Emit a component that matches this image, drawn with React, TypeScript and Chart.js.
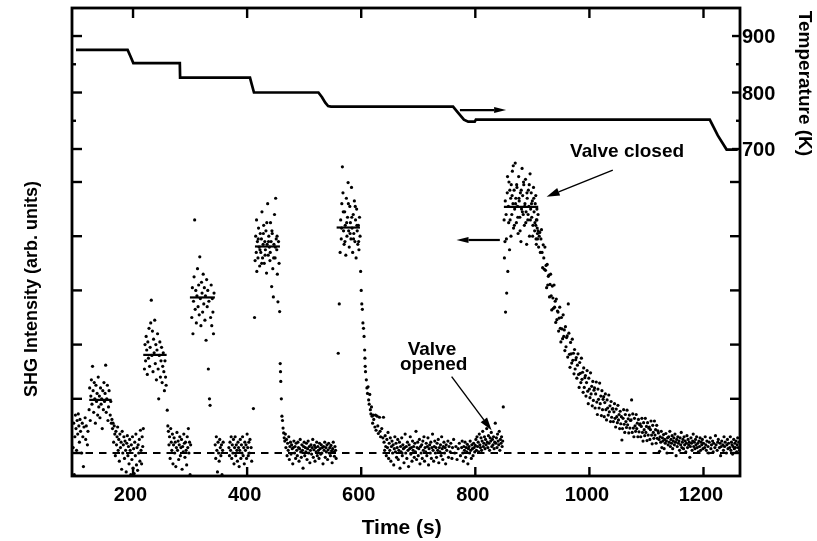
import React, { useEffect, useRef } from "react";
import { Chart, registerables } from "chart.js";

Chart.register(...registerables);

// ---------- axis values ----------
const timeTicks = [200, 400, 600, 800, 1000, 1200];
const shgTicks = [0, 1, 2, 3, 4, 5];
const tempLabelTicks = [700, 800, 900];
const tempMinorTicks = [750, 850];

// ---------- temperature (K) vs time (s) ----------
const tempTime = [100, 190.5, 196, 200.5, 282, 282.5, 405, 408, 412, 525, 531, 537, 542, 547, 761, 770, 780, 787.5, 799, 801, 1211, 1225, 1240.5, 1260];
const tempKelvin = [875.5, 875.5, 863, 852, 852, 826.5, 826.5, 815, 800, 800, 792, 782, 776, 775, 775, 764, 752, 748.5, 748.5, 752, 752, 724, 699, 699];

// ---------- SHG intensity (arb. units) vs time (s) ----------
const shgStart: [number, number][] = [
  [95, 0.1], [96, 0.55], [97, -0.4], [98, 0.3], [99, 0.7], [100, 0.45], [101, 0.05], [102, 0.6], [103, 0.35], [104, 0.72],
  [105, 0.5], [106, 0.2], [107, 0.62], [108, 0.4], [110, 0.0], [111, 0.55], [112, 0.3], [113, -0.25], [114, 0.48], [116, 0.65],
  [117, 0.25], [118, 0.5], [120, 0.15], [121, 0.4],
];
const shgStep1: [number, number][] = [
  [123, 0.8], [124, 1.2], [125, 0.6], [126, 1.05], [127, 1.35], [128, 0.9], [129, 1.6], [130, 1.15], [131, 0.75], [132, 1.3],
  [133, 1.0], [134, 0.55], [135, 1.25], [136, 0.95], [137, 1.1], [138, 0.7], [139, 1.4], [140, 0.85], [141, 1.05], [142, 0.65],
  [143, 1.2], [144, 0.9], [145, 1.0], [146, 0.45], [147, 1.15], [148, 0.8], [149, 1.3], [150, 0.95], [151, 1.1], [152, 1.62],
  [153, 0.75], [154, 1.0], [155, 1.25], [156, 0.6], [157, 0.85], [158, 1.15], [160, 0.7], [161, 0.95], [162, 0.55],
];
const shgGap1: [number, number][] = [
  [163, 0.62], [164, 0.45], [165, 0.55], [166, 0.2], [167, 0.5], [168, 0.35], [169, -0.05], [170, 0.4], [171, 0.15], [172, 0.3],
  [173, 0.48], [174, 0.05], [175, 0.25], [176, -0.15], [177, 0.35], [178, 0.1], [179, 0.2], [180, -0.3], [181, 0.4], [182, 0.0],
  [183, 0.15], [184, 0.3], [185, -0.1], [186, 0.22], [187, 0.05], [188, -0.35], [189, 0.18], [190, 0.32], [191, -0.05], [192, 0.12],
  [193, -0.2], [194, 0.25], [195, 0.05], [196, -0.4], [197, 0.15], [198, -0.12], [199, 0.3], [200, -0.28], [201, 0.08], [202, -0.38],
  [203, 0.2], [204, -0.05], [205, 0.35], [206, -0.22], [207, 0.1], [208, -0.32], [209, 0.15], [210, 0.0], [211, 0.25], [212, -0.15],
  [213, 0.42], [214, 0.05], [215, -0.2], [216, 0.3], [217, 0.12], [218, 0.45],
];
const shgStep2: [number, number][] = [
  [220, 1.55], [221, 2.0], [222, 1.7], [223, 2.15], [224, 1.9], [225, 1.45], [226, 2.05], [227, 1.75], [228, 2.3], [229, 1.6],
  [230, 1.95], [231, 2.4], [232, 2.82], [233, 1.8], [234, 2.25], [235, 1.5], [236, 2.1], [237, 1.85], [238, 2.45], [239, 1.65],
  [240, 2.0], [241, 1.35], [242, 1.9], [243, 2.2], [244, 1.55], [245, 1.0], [246, 1.8], [247, 2.05], [248, 1.4], [249, 1.7],
  [250, 1.95], [251, 1.3], [252, 1.6], [253, 1.85], [254, 1.5], [255, 1.15], [256, 1.7], [257, 1.4], [258, 1.25], [260, 0.79],
];
const shgGap2: [number, number][] = [
  [261, 0.5], [262, 0.4], [263, 0.15], [264, 0.3], [265, -0.1], [266, 0.45], [267, 0.2], [268, 0.05], [269, 0.35], [270, -0.2],
  [271, 0.15], [272, 0.28], [273, 0.0], [274, 0.2], [275, -0.25], [276, 0.1], [277, 0.38], [278, 0.05], [279, 0.22], [280, -0.12],
  [281, 0.15], [282, 0.3], [283, -0.05], [284, 0.1], [285, 0.25], [286, -0.3], [287, 0.12], [288, 0.02], [289, 0.35], [290, 0.18],
  [291, -0.08], [292, 0.2], [293, 0.05], [294, -0.22], [295, 0.3], [296, 0.1], [297, 0.45], [298, 0.0], [299, 0.2], [300, -0.4],
  [301, 0.15],
];
const shgStep3: [number, number][] = [
  [303, 2.5], [304, 3.05], [305, 2.2], [306, 2.8], [307, 3.25], [308, 4.3], [309, 2.65], [310, 3.0], [311, 2.4], [312, 2.9],
  [313, 3.4], [314, 2.7], [315, 3.1], [316, 2.55], [317, 3.62], [318, 2.85], [319, 2.35], [320, 3.15], [321, 2.95], [322, 2.6],
  [323, 3.3], [324, 2.75], [325, 3.05], [326, 2.45], [327, 2.9], [328, 2.08], [329, 3.2], [330, 2.7], [331, 3.0], [332, 1.55],
  [333, 2.8], [334, 1.0], [335, 0.88], [336, 2.5], [337, 3.1], [338, 2.35], [339, 2.85], [340, 2.6], [341, 2.2], [342, 2.95],
];
const shgGap3: [number, number][] = [
  [344, 0.15], [345, -0.1], [346, 0.3], [347, 0.05], [348, -0.35], [349, 0.2], [350, 0.0], [351, -0.15], [352, 0.25], [353, 0.1],
  [354, -0.05], [355, 0.15], [356, -0.4], [357, 0.05], [358, 0.2],
  [368, 0.1], [369, -0.05], [370, 0.2], [371, 0.05], [372, 0.3], [373, -0.1], [374, 0.15], [375, 0.0], [376, 0.25], [377, -0.2],
  [378, 0.1], [379, 0.3], [380, -0.05], [381, 0.15], [382, 0.05], [383, -0.15], [384, 0.2], [385, 0.1], [386, -0.25], [387, 0.05],
  [388, 0.25], [389, -0.1], [390, 0.15], [391, 0.0], [392, 0.3], [393, -0.05], [394, 0.1], [395, -0.2], [396, 0.2], [397, 0.05],
  [398, 0.15], [399, -0.1], [400, 0.35], [401, 0.1], [402, -0.05], [403, 0.2], [404, 0.0], [405, 0.25], [407, 0.1], [408, -0.15],
];
const shgStep4: [number, number][] = [
  [411, 0.82], [413, 2.5], [414, 3.55], [415, 4.0], [416, 3.7], [417, 3.35], [418, 3.9], [419, 3.6], [420, 4.15], [421, 3.8],
  [422, 3.45], [423, 4.05], [424, 3.7], [425, 3.95], [426, 4.45], [427, 3.6], [428, 3.85], [429, 4.2], [430, 3.5], [431, 3.9],
  [432, 3.75], [433, 4.1], [434, 3.32], [435, 3.85], [436, 4.6], [437, 3.65], [438, 4.0], [439, 3.8], [440, 3.55], [441, 4.25],
  [442, 3.9], [443, 3.07], [444, 4.05], [445, 3.4], [446, 2.88], [447, 3.85], [448, 4.4], [449, 3.6], [450, 4.7], [451, 3.95],
  [452, 3.75], [453, 3.3], [454, 2.79], [455, 3.9], [456, 3.5], [457, 2.61], [458, 1.65], [458.5, 1.5], [459, 1.32], [460, 1.0],
  [461, 0.68], [462, 0.6], [463, 0.46], [464, 0.37], [465, 0.28],
  [416.5, 4.3], [419.5, 3.95], [422.5, 3.75], [425.5, 3.5], [428.5, 4.05], [431.5, 3.65], [434.5, 4.25], [437.5, 3.9], [440.5, 3.7],
  [443.5, 4.1], [446.5, 3.6], [449.5, 3.8], [452.5, 4.0],
];
const shgGap4: [number, number][] = [
  [466, 0.22], [467, 0.35], [468, 0.1], [469, 0.25], [470, -0.05], [471, 0.18], [472, 0.05], [473, 0.3], [474, -0.12], [475, 0.12],
  [476, 0.2], [477, -0.02], [478, 0.15], [479, 0.08], [480, -0.2], [481, 0.1], [482, 0.22], [483, 0.0], [484, 0.12], [485, -0.1],
  [486, 0.18], [487, 0.05], [488, -0.05], [489, 0.2], [490, 0.1], [491, -0.15], [492, 0.08], [493, 0.25], [494, 0.02], [495, -0.08],
  [496, 0.15], [497, 0.05], [498, -0.28], [499, 0.12], [500, 0.2], [501, -0.05], [502, 0.1], [503, 0.02], [504, 0.18], [505, -0.12],
  [506, 0.08], [507, 0.22], [508, 0.0], [509, 0.12], [510, -0.18], [511, 0.05], [512, 0.15], [513, -0.02], [514, 0.1], [515, 0.25],
  [516, -0.08], [517, 0.06], [518, 0.14], [519, -0.15], [520, 0.1], [521, 0.02], [522, 0.2], [523, -0.05], [524, 0.12], [525, 0.05],
  [526, -0.1], [527, 0.18], [528, 0.08], [529, -0.02], [530, 0.15], [531, 0.0], [532, 0.1], [533, -0.2], [534, 0.12], [535, 0.05],
  [536, 0.2], [537, -0.08], [538, 0.1], [539, 0.02], [540, 0.15], [541, -0.12], [542, 0.06], [543, 0.18], [544, 0.0], [545, 0.1],
  [546, -0.05], [547, 0.14], [548, 0.04], [549, -0.18], [550, 0.08], [551, 0.2], [552, 0.02], [553, -0.06], [554, 0.12], [555, 0.05],
  [556, -0.1],
];
const shgStep5: [number, number][] = [
  [559.7, 1.84], [561.5, 2.75], [563, 3.7], [564, 4.3], [565, 3.95], [566, 4.6], [567, 5.28], [568, 4.8], [569, 4.1], [570, 3.85],
  [571, 4.45], [572, 4.2], [573, 3.65], [574, 4.7], [575, 4.0], [576, 4.35], [577, 4.99], [578, 4.1], [579, 3.8], [580, 4.55],
  [581, 4.25], [582, 3.95], [583, 4.9], [584, 4.15], [585, 3.7], [586, 4.4], [587, 4.05], [588, 4.65], [589, 3.9], [590, 4.3],
  [591, 3.6], [592, 4.5], [593, 4.1], [594, 3.85], [595, 4.2], [596, 3.75], [597, 4.35], [598, 4.0],
  [565.5, 4.15], [568.5, 4.45], [571.5, 3.9], [574.5, 4.25], [577.5, 4.6], [580.5, 4.05], [583.5, 4.35], [586.5, 3.95], [589.5, 4.55],
  [592.5, 4.2], [595.5, 3.9],
  [599, 3.35], [600, 3.0], [601, 2.75], [602, 2.65], [603, 2.4], [604, 2.3], [605, 2.15], [606, 1.9], [606.5, 1.75], [607, 1.6],
  [607.5, 1.5], [609, 1.35], [610, 1.2], [611, 1.1], [612, 1.22], [613, 0.98], [614, 0.9], [615, 1.08], [616, 0.8], [617, 0.72],
  [618, 0.85], [619, 0.68], [620, 0.55], [621, 0.7], [622, 0.62], [624, 0.48], [625, 0.7], [626, 0.42], [628, 0.68], [629, 0.5],
  [630, 0.36], [632, 0.66], [633, 0.4], [634, 0.3], [636, 0.45], [638, 0.28], [639, 0.66],
];
const shgBaseline: [number, number][] = [
  [640, 0.2], [641, 0.05], [642, 0.32], [643, 0.12], [644, -0.05], [645, 0.25], [646, 0.1], [647, 0.38], [648, -0.1], [649, 0.18],
  [650, 0.05], [651, 0.28], [652, -0.15], [653, 0.12], [654, 0.22], [655, 0.0], [656, 0.15], [657, -0.22], [658, 0.08], [659, 0.3],
  [660, 0.02], [661, 0.18], [662, -0.08], [663, 0.1], [664, 0.25], [665, -0.12], [666, 0.05], [667, 0.2], [668, -0.28], [669, 0.12],
  [670, 0.02], [671, 0.28], [672, -0.05], [673, 0.15], [674, 0.08], [675, -0.18], [676, 0.1], [677, 0.35], [678, 0.0], [679, 0.12],
  [680, -0.1], [681, 0.2], [682, 0.05], [683, -0.25], [684, 0.15], [685, 0.08], [686, 0.3], [687, -0.02], [688, 0.1], [689, -0.15],
  [690, 0.22], [691, 0.05], [692, 0.12], [693, -0.08], [694, 0.18], [695, 0.02], [696, 0.4], [697, -0.12], [698, 0.1], [699, 0.2],
  [700, -0.05], [701, 0.08], [702, 0.25], [703, -0.2], [704, 0.12], [705, 0.0], [706, 0.15], [707, -0.1], [708, 0.22], [709, 0.05],
  [710, 0.3], [711, -0.15], [712, 0.1], [713, 0.02], [714, 0.18], [715, -0.05], [716, 0.12], [717, 0.28], [718, -0.22], [719, 0.08],
  [720, 0.15], [721, 0.0], [722, 0.2], [723, -0.1], [724, 0.1], [725, 0.35], [726, 0.05], [727, -0.15], [728, 0.12], [729, 0.22],
  [730, 0.0], [731, 0.1], [732, -0.08], [733, 0.18], [734, 0.05], [735, 0.25], [736, -0.18], [737, 0.1], [738, 0.02], [739, 0.15],
  [740, -0.05], [741, 0.3], [742, 0.08], [743, -0.12], [744, 0.12], [745, 0.2], [746, 0.0], [747, 0.1], [748, -0.2], [749, 0.15],
  [750, 0.05], [752, 0.22], [753, -0.08], [754, 0.12], [756, 0.02], [757, 0.18], [759, -0.1], [760, 0.1], [762, 0.25], [764, 0.0],
  [766, 0.12], [768, -0.12], [770, 0.08], [772, 0.18], [774, -0.05], [776, 0.1], [777, 0.22], [778, 0.0], [779, -0.15], [780, 0.12],
  [781, 0.05], [782, 0.2], [783, -0.08], [784, 0.1], [785, 0.02], [786, 0.16], [787, -0.2], [788, 0.08], [789, 0.12], [790, 0.0],
  [791, 0.22], [792, 0.05], [793, -0.1], [794, 0.15], [795, 0.08], [796, -0.05], [797, 0.18], [798, 0.1], [799, 0.02], [800, 0.14],
  [801, 0.25], [802, 0.05], [803, 0.3], [804, 0.12], [805, 0.2], [806, 0.02], [807, 0.35], [808, 0.15], [809, 0.1], [810, 0.28],
  [811, 0.05], [812, 0.22], [813, 0.4], [814, 0.12], [815, 0.18], [816, 0.3], [817, 0.08], [818, 0.25], [819, 0.15], [820, 0.45],
  [821, 0.2], [822, 0.1], [823, 0.32], [824, 0.18], [825, 0.05], [826, 0.28], [827, 0.22], [828, 0.38], [829, 0.12], [830, 0.25],
  [831, 0.15], [832, 0.3], [833, 0.08], [834, 0.2], [835, 0.55], [836, 0.18], [837, 0.28], [838, 0.1], [839, 0.35], [840, 0.22],
  [841, 0.15], [842, 0.4], [843, 0.05], [844, 0.25], [845, 0.18], [846, 0.3], [847, 0.12], [848, 0.22],
];
const shgStep6: [number, number][] = [
  [849, 0.85], [851, 3.6], [852, 3.9], [853, 2.6], [854, 4.4], [855, 2.95], [856, 4.8], [857, 3.35], [858, 4.55], [859, 5.0],
  [860, 3.75], [861, 4.3], [862, 4.7], [863, 4.95], [864, 4.4], [865, 5.2], [866, 4.6], [867, 4.15], [868, 4.85], [869, 4.5],
  [870, 5.35], [871, 4.7], [872, 4.25], [873, 4.9], [874, 4.55], [875, 4.05], [876, 5.1], [877, 4.65], [878, 4.35], [879, 4.8],
  [880, 3.9], [881, 4.5], [882, 5.25], [883, 4.75], [884, 4.4], [885, 4.95], [886, 4.2], [887, 4.6], [888, 5.05], [889, 4.45],
  [890, 3.85], [891, 4.7], [892, 4.3], [893, 4.85], [894, 4.55], [895, 4.0], [896, 5.15], [897, 4.5], [898, 4.8], [899, 4.35],
  [900, 4.65], [901, 4.2], [902, 4.9], [903, 4.45], [904, 4.1], [905, 4.6], [906, 4.75], [907, 4.3], [908, 4.5], [909, 4.05],
  [910, 4.4],
  [850.5, 4.3], [852.5, 4.65], [854.5, 3.95], [856.5, 5.1], [858.5, 4.25], [860.5, 4.85], [862.5, 4.0], [864.5, 4.75], [866.5, 5.3],
  [868.5, 4.2], [870.5, 4.6], [872.5, 4.95], [874.5, 4.35], [876.5, 4.7], [878.5, 4.1], [880.5, 4.85], [882.5, 4.45], [884.5, 5.0],
  [886.5, 4.55], [888.5, 4.25], [890.5, 4.8], [892.5, 4.4], [894.5, 4.95], [896.5, 4.3], [898.5, 4.6], [900.5, 4.0], [902.5, 4.7],
  [904.5, 4.25], [906.5, 3.95], [908.5, 4.15],
];
const shgRecovery: [number, number][] = [
  [906, 4.2], [907, 3.85], [908, 4.3], [909, 3.95], [910, 4.1], [911, 3.8], [912, 4.0],
  [913, 4.07], [914, 3.7], [915, 3.95], [916, 4.12], [917, 3.7], [918, 3.42], [919, 3.84], [920, 3.6], [921, 3.39], [922, 3.8],
  [923, 3.37], [924, 3.46], [925, 3.05], [926, 3.48], [927, 3.1], [928, 3.26], [929, 3.28], [930, 2.88], [931, 3.11], [932, 3.3],
  [933, 2.9], [934, 2.64], [935, 3.08], [936, 2.86], [937, 2.67], [938, 3.1], [939, 2.69], [940, 2.8], [941, 2.41], [942, 2.84],
  [943, 2.46], [944, 2.62], [945, 2.6], [946, 2.25], [947, 2.49], [948, 2.69], [949, 2.3], [950, 2.05], [951, 2.5], [952, 2.29],
  [953, 2.11], [954, 2.55], [955, 2.15], [956, 2.27], [957, 1.89], [958, 2.33], [959, 1.96], [960, 2.13], [961, 2.16], [962, 1.77],
  [963, 2.75], [964, 2.21], [965, 1.82], [966, 1.58], [967, 2.04], [968, 1.83], [969, 1.66], [970, 2.1], [971, 1.71], [972, 1.84],
  [973, 1.46], [974, 1.91], [975, 1.55], [976, 1.72], [977, 1.76], [978, 1.38], [979, 1.62], [980, 1.83], [981, 1.45], [982, 1.21],
  [983, 1.67], [984, 1.47], [985, 1.3], [986, 1.75], [987, 1.36], [988, 1.49], [989, 1.12], [990, 1.57], [991, 1.21], [992, 1.39],
  [993, 1.43], [994, 1.05], [995, 1.3], [996, 1.52], [997, 1.14], [998, 0.91], [999, 1.38], [1000, 1.18], [1001, 1.02], [1002, 1.48],
  [1003, 1.09], [1004, 1.23], [1005, 0.87], [1006, 1.32], [1007, 0.97], [1008, 1.16], [1009, 1.2], [1010, 0.83], [1011, 1.09], [1012, 1.31],
  [1013, 0.94], [1014, 0.71], [1015, 1.18], [1016, 0.99], [1017, 0.83], [1018, 1.29], [1019, 0.91], [1020, 1.05], [1021, 0.69], [1022, 1.15],
  [1023, 0.8], [1024, 0.99], [1025, 1.04], [1026, 0.67], [1027, 0.93], [1028, 1.09], [1029, 0.8], [1030, 0.61], [1031, 0.98], [1032, 0.83],
  [1033, 0.7], [1034, 1.07], [1035, 0.76], [1036, 0.87], [1037, 0.58], [1038, 0.95], [1039, 0.66], [1040, 0.81],
  [1041, 0.82], [1042, 0.58], [1043, 0.76], [1044, 0.91], [1045, 0.64], [1046, 0.48], [1047, 0.81], [1048, 0.67], [1049, 0.56], [1050, 0.88],
  [1051, 0.61], [1052, 0.71], [1053, 0.45], [1054, 0.77], [1055, 0.54], [1056, 0.67], [1057, 0.24], [1058, 0.45], [1059, 0.64], [1060, 0.8],
  [1061, 0.53], [1062, 0.38], [1063, 0.71], [1064, 0.58], [1065, 0.47], [1066, 0.79], [1067, 0.52], [1068, 0.63], [1069, 0.37], [1070, 0.7],
  [1071, 0.46], [1072, 0.6], [1073, 0.61], [1074, 0.98], [1075, 0.38], [1076, 0.72], [1077, 0.46], [1078, 0.3], [1079, 0.64], [1080, 0.5],
  [1081, 0.4], [1082, 0.71], [1083, 0.45], [1084, 0.55], [1085, 0.3], [1086, 0.62], [1087, 0.39], [1088, 0.52], [1089, 0.54], [1090, 0.3],
  [1091, 0.49], [1092, 0.64], [1093, 0.38], [1094, 0.22], [1095, 0.56], [1096, 0.43], [1097, 0.32], [1098, 0.64], [1099, 0.38], [1100, 0.49],
  [1101, 0.23], [1102, 0.56], [1103, 0.33], [1104, 0.46], [1105, 0.48], [1106, 0.25], [1107, 0.43], [1108, 0.59], [1109, 0.33], [1110, 0.17],
  [1111, 0.51], [1112, 0.38], [1113, 0.27], [1114, 0.59], [1115, 0.33], [1116, 0.43], [1117, 0.18], [1118, 0.51], [1119, 0.27], [1120, 0.41],
  [1121, 0.37], [1122, 0.25], [1123, 0.03], [1124, 0.3], [1125, 0.2], [1126, 0.4],
  [1127, 0.1], [1128, 0.28], [1129, 0.22], [1130, 0.34], [1131, 0.08], [1132, 0.25], [1133, 0.18], [1134, 0.36], [1135, 0.22], [1136, 0.0],
  [1137, 0.28], [1138, 0.15], [1139, 0.3], [1140, 0.2], [1141, 0.4], [1142, 0.12], [1143, 0.25], [1144, 0.18], [1145, 0.32], [1146, 0.08],
  [1147, 0.22], [1148, 0.28], [1149, 0.15], [1150, 0.35], [1151, 0.2], [1152, -0.05], [1153, 0.25], [1154, 0.12], [1155, 0.3], [1156, 0.18],
  [1157, 0.22], [1158, 0.05], [1159, 0.28], [1160, 0.15], [1161, 0.38], [1162, 0.1], [1163, 0.2], [1164, 0.25], [1165, 0.08], [1166, 0.3],
  [1167, 0.15], [1168, 0.22], [1169, 0.02], [1170, 0.18], [1171, 0.32], [1172, 0.1], [1173, 0.25], [1174, 0.15], [1175, 0.2], [1176, -0.08],
  [1177, 0.12], [1178, 0.28], [1179, 0.18], [1180, 0.05], [1181, 0.22], [1182, 0.35], [1183, 0.12], [1184, 0.2], [1185, 0.08], [1186, 0.25],
  [1187, 0.15], [1188, 0.3], [1189, 0.1], [1190, 0.18], [1191, 0.02], [1192, 0.22], [1193, 0.12], [1194, 0.28], [1195, 0.05], [1196, 0.2],
  [1197, 0.15], [1198, 0.25], [1199, 0.08], [1200, 0.18], [1202, 0.1], [1203, 0.3], [1204, 0.15], [1205, 0.05], [1206, 0.22], [1208, 0.12],
  [1209, 0.0], [1210, 0.2], [1212, 0.28], [1213, 0.08], [1214, 0.15], [1216, 0.22], [1217, 0.02], [1218, 0.18], [1220, 0.1], [1221, 0.32],
  [1222, 0.15], [1224, 0.05], [1225, 0.2], [1226, 0.25], [1228, 0.1], [1229, 0.18], [1230, -0.05], [1231, 0.12], [1232, 0.22], [1234, 0.15],
  [1235, 0.05], [1236, 0.3], [1237, 0.12], [1238, 0.2], [1240, 0.0], [1241, 0.15], [1242, 0.25], [1243, 0.08], [1244, 0.18], [1246, 0.1],
  [1247, 0.3], [1248, 0.05], [1249, 0.2], [1250, 0.15], [1251, -0.02], [1252, 0.12], [1253, 0.25], [1254, 0.08], [1255, 0.18], [1256, 0.1],
  [1257, 0.22], [1258, 0.02], [1259, 0.15], [1260, 0.28], [1261, 0.1], [1262, 0.2], [1263, 0.05],
];

// plateau averages (short horizontal bars)
const meanStart = [123.2, 217.9, 299.7, 413.7, 556.9, 850.1];
const meanEnd = [162.5, 258.9, 343.5, 457.5, 597.8, 910.3];
const meanLevel = [0.98, 1.81, 2.87, 3.81, 4.16, 4.54];

// annotations (data coordinates)
const tempArrow = [773, 769, 854, 769];
const shgArrow = [843, 3.93, 767, 3.93];
const closedArrow = [1041, 5.22, 925, 4.73];
const openedArrow = [758.5, 1.41, 828.6, 0.42];
const closedLabel = { text: "Valve closed", t: 1066, s: 5.46 };
const openedLabel = [
  { text: "Valve", t: 724, s: 1.81 },
  { text: "opened", t: 727, s: 1.53 },
];

const FONT = "'Liberation Sans', Arial, Helvetica, sans-serif";

const decorPlugin = {
  id: "decor",
  afterDatasetsDraw(chart: any) {
    const { ctx, chartArea: a, scales } = chart;
    const xs = scales.x;
    const ys = scales.y;
    const ts = scales.y2;
    ctx.save();
    ctx.strokeStyle = "#000";
    ctx.fillStyle = "#000";
    ctx.lineCap = "butt";

    const seg = (x1: number, y1: number, x2: number, y2: number) => {
      ctx.beginPath();
      ctx.moveTo(x1, y1);
      ctx.lineTo(x2, y2);
      ctx.stroke();
    };

    ctx.lineWidth = 2.8;
    ctx.strokeRect(a.left, a.top, a.right - a.left, a.bottom - a.top);

    ctx.lineWidth = 2.4;
    timeTicks.forEach((v) => {
      const x = xs.getPixelForValue(v);
      seg(x, a.bottom, x, a.bottom - 9);
      seg(x, a.top, x, a.top + 10);
    });
    shgTicks.forEach((v) => {
      const y = ys.getPixelForValue(v);
      seg(a.left, y, a.left + 10, y);
      seg(a.right, y, a.right - 10, y);
    });
    tempLabelTicks.forEach((v) => {
      const y = ts.getPixelForValue(v);
      seg(a.left, y, a.left + 10, y);
      seg(a.right, y, a.right - 8, y);
    });
    tempMinorTicks.forEach((v) => {
      const y = ts.getPixelForValue(v);
      seg(a.left, y, a.left + 4, y);
      seg(a.right, y, a.right - 4, y);
    });

    ctx.font = `bold 20px ${FONT}`;
    ctx.textAlign = "center";
    ctx.textBaseline = "alphabetic";
    timeTicks.forEach((v) => {
      ctx.fillText(String(v), xs.getPixelForValue(v) - 2.5, a.bottom + 25);
    });
    ctx.textAlign = "left";
    tempLabelTicks.forEach((v) => {
      ctx.fillText(String(v), a.right + 2, ts.getPixelForValue(v) + 7);
    });

    ctx.font = `bold 21px ${FONT}`;
    ctx.textAlign = "center";
    ctx.fillText("Time (s)", 401.7, 533.5);

    ctx.save();
    ctx.font = `bold 18px ${FONT}`;
    ctx.translate(37, 289);
    ctx.rotate(-Math.PI / 2);
    ctx.textAlign = "center";
    ctx.fillText("SHG Intensity (arb. units)", 0, 0);
    ctx.restore();

    ctx.save();
    ctx.font = `bold 19px ${FONT}`;
    ctx.translate(798.5, 83.5);
    ctx.rotate(Math.PI / 2);
    ctx.textAlign = "center";
    ctx.fillText("Temperature (K)", 0, 0);
    ctx.restore();

    const arrow = (x1: number, y1: number, x2: number, y2: number, lw: number, hl: number, hw: number) => {
      const ang = Math.atan2(y2 - y1, x2 - x1);
      const bx = x2 - Math.cos(ang) * hl;
      const by = y2 - Math.sin(ang) * hl;
      ctx.lineWidth = lw;
      seg(x1, y1, bx, by);
      ctx.beginPath();
      ctx.moveTo(x2, y2);
      ctx.lineTo(bx + (Math.sin(ang) * hw) / 2, by - (Math.cos(ang) * hw) / 2);
      ctx.lineTo(bx - (Math.sin(ang) * hw) / 2, by + (Math.cos(ang) * hw) / 2);
      ctx.closePath();
      ctx.fill();
    };
    arrow(xs.getPixelForValue(tempArrow[0]), ts.getPixelForValue(tempArrow[1]), xs.getPixelForValue(tempArrow[2]), ts.getPixelForValue(tempArrow[3]), 2.2, 12, 6);
    arrow(xs.getPixelForValue(shgArrow[0]), ys.getPixelForValue(shgArrow[1]), xs.getPixelForValue(shgArrow[2]), ys.getPixelForValue(shgArrow[3]), 2.2, 12, 6);
    arrow(xs.getPixelForValue(closedArrow[0]), ys.getPixelForValue(closedArrow[1]), xs.getPixelForValue(closedArrow[2]), ys.getPixelForValue(closedArrow[3]), 1.4, 13, 8);
    arrow(xs.getPixelForValue(openedArrow[0]), ys.getPixelForValue(openedArrow[1]), xs.getPixelForValue(openedArrow[2]), ys.getPixelForValue(openedArrow[3]), 1.4, 13, 8);

    ctx.textAlign = "center";
    ctx.font = `bold 19px ${FONT}`;
    ctx.fillText(closedLabel.text, xs.getPixelForValue(closedLabel.t), ys.getPixelForValue(closedLabel.s));
    openedLabel.forEach((l) => {
      ctx.fillText(l.text, xs.getPixelForValue(l.t), ys.getPixelForValue(l.s));
    });

    ctx.restore();
  },
};

export default function App() {
  const canvasRef = useRef<HTMLCanvasElement | null>(null);

  useEffect(() => {
    const canvas = canvasRef.current;
    if (!canvas) return;

    const toPts = (arr: [number, number][]) => arr.map(([x, y]) => ({ x, y }));
    const shgPoints = [
      ...shgStart, ...shgStep1, ...shgGap1, ...shgStep2, ...shgGap2, ...shgStep3, ...shgGap3,
      ...shgStep4, ...shgGap4, ...shgStep5, ...shgBaseline, ...shgStep6, ...shgRecovery,
    ];
    const tempPoints = tempTime.map((t, i) => ({ x: t, y: tempKelvin[i] }));

    const meanSets = meanStart.map((s, i) => ({
      type: "line" as const,
      data: [{ x: s, y: meanLevel[i] }, { x: meanEnd[i], y: meanLevel[i] }],
      yAxisID: "y",
      borderColor: "#000",
      borderWidth: 2.2,
      pointRadius: 0,
      fill: false,
    }));

    const chart = new Chart(canvas, {
      type: "scatter",
      data: {
        datasets: [
          {
            type: "line",
            data: tempPoints,
            yAxisID: "y2",
            borderColor: "#000",
            borderWidth: 2.7,
            pointRadius: 0,
            tension: 0,
            fill: false,
          } as any,
          {
            type: "line",
            data: [{ x: 93, y: 0 }, { x: 1264, y: 0 }],
            yAxisID: "y",
            borderColor: "#000",
            borderWidth: 2,
            borderDash: [7.5, 6],
            pointRadius: 0,
            fill: false,
          } as any,
          ...(meanSets as any[]),
          {
            type: "scatter",
            data: toPts(shgPoints),
            yAxisID: "y",
            pointRadius: 1.6,
            pointBackgroundColor: "#000",
            pointBorderWidth: 0,
            backgroundColor: "#000",
          } as any,
        ],
      },
      options: {
        animation: false,
        responsive: false,
        events: [],
        layout: { padding: { left: 72, right: 77, top: 8, bottom: 65 } },
        plugins: { legend: { display: false }, tooltip: { enabled: false } },
        scales: {
          x: { type: "linear", min: 93, max: 1264, display: false },
          y: { type: "linear", min: -0.4244, max: 8.2103, display: false },
          y2: { type: "linear", position: "right", min: 121.2, max: 949.6, display: false },
        },
      },
      plugins: [decorPlugin],
    } as any);

    return () => chart.destroy();
  }, []);

  return (
    <div style={{ position: "absolute", left: 0, top: 0, width: 817, height: 541, background: "#fff" }}>
      <canvas ref={canvasRef} width={817} height={541} style={{ display: "block", width: 817, height: 541 }} />
    </div>
  );
}
